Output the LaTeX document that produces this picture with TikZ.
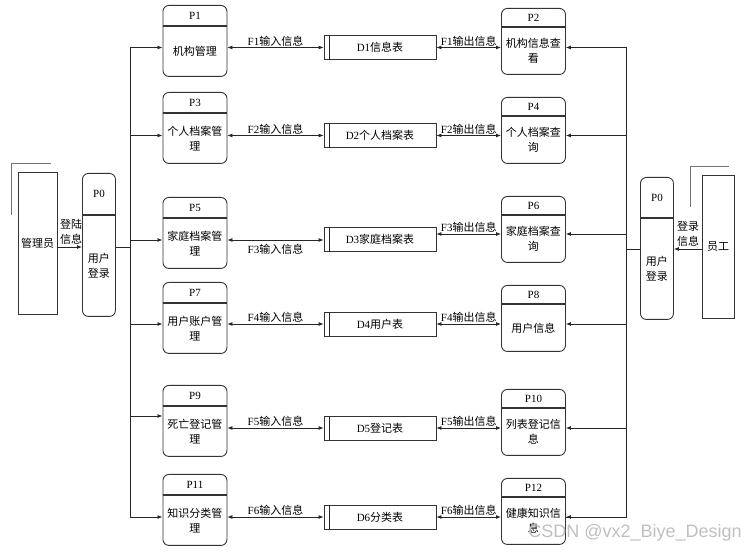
\documentclass[tikz,border=0pt]{standalone}
\usepackage{fontspec}
\setmainfont{Liberation Serif}
\setsansfont{Liberation Sans}
\newfontfamily\cjk{Noto Sans CJK SC}
\usetikzlibrary{arrows.meta,calc}

\newcommand{\zh}[1]{{\cjk #1}}

\tikzset{
  proc/.style={draw=black!80, line width=0.9pt, rounded corners=6pt, anchor=north west, inner sep=0pt},
  divider/.style={draw=black!80, line width=1.1pt},
  store/.style={draw=black!80, line width=0.8pt, minimum width=112pt, minimum height=24pt, inner sep=0pt},
  actor/.style={draw=black!80, line width=0.8pt, inner sep=0pt, font=\cjk\fontsize{11}{15}\selectfont},
  txt/.style={font=\fontsize{11}{15}\selectfont, align=center, inner sep=0pt},
  zhtxt/.style={txt, font=\cjk\fontsize{11}{15}\selectfont},
  wire/.style={draw=black!85, line width=0.8pt},
  flow/.style={wire, -{Latex[length=5pt,width=4pt]}},
  flowboth/.style={wire, {Latex[length=5pt,width=4pt]}-{Latex[length=5pt,width=4pt]}},
  corner/.style={draw=black!55, line width=0.8pt},
}

% process box: [width]{name}{x left}{y top}{height}{header}{id}{text}
\newcommand{\dfdproc}[8][64]{%
  \node[proc, minimum width=#1pt, minimum height=#5pt] (#2) at (#3,#4) {};
  \draw[divider] ([yshift=-#6pt]#2.north west) -- ([yshift=-#6pt]#2.north east);
  \node[txt] at ([yshift=-#6pt/2]#2.north) {#7};
  \node[zhtxt] at ($([yshift=-#6pt]#2.north)!.5!(#2.south)$) {#8};
}
% data store: {name}{y}{text}
\newcommand{\dfdstore}[3]{%
  \node[store, txt] (#1) at (380,#2) {#3};
  \draw[wire] ([xshift=6pt]#1.north west) -- ([xshift=6pt]#1.south west);
}

\begin{document}
\begin{tikzpicture}[x=1pt,y=-1pt]
  \useasboundingbox (0,0) rectangle (756,553);

  % external entities
  \node[actor, minimum width=39pt, minimum height=142pt] (admin) at (37.5,243) {管理员};
  \draw[corner] ([xshift=-6pt,yshift=-43pt]admin.north west) |- ([xshift=33pt,yshift=8pt]admin.north west);
  \node[actor, minimum width=32pt, minimum height=143pt] (staff) at (718,246.5) {员工};
  \draw[corner] ([xshift=-11pt,yshift=-32pt]staff.north west) |- ([xshift=27pt,yshift=8pt]staff.north west);

  % login processes
  \dfdproc[33]{pl0}{82}{173}{143}{42}{P0}{用户\\登录}
  \dfdproc[33]{pr0}{640}{177}{142}{41}{P0}{用户\\登录}

  % left processes
  \dfdproc{p1}{162.5}{5}{71}{21}{P1}{机构管理}
  \dfdproc{p3}{162.5}{92}{71}{21}{P3}{个人档案管\\理}
  \dfdproc{p5}{162.5}{197}{71}{21}{P5}{家庭档案管\\理}
  \dfdproc{p7}{162.5}{282}{71}{21}{P7}{用户账户管\\理}
  \dfdproc{p9}{162.5}{385}{71}{21}{P9}{死亡登记管\\理}
  \dfdproc{p11}{162.5}{474}{71}{21}{P11}{知识分类管\\理}

  % right processes
  \dfdproc{p2}{501}{8}{66}{19}{P2}{机构信息查\\看}
  \dfdproc{p4}{501}{97}{66}{19}{P4}{个人档案查\\询}
  \dfdproc{p6}{501}{196}{66}{19}{P6}{家庭档案查\\询}
  \dfdproc{p8}{501}{285}{66}{19}{P8}{用户信息}
  \dfdproc{p10}{501}{389}{66}{19}{P10}{列表登记信\\息}
  \dfdproc{p12}{501}{478}{66}{19}{P12}{健康知识信\\息}

  % data stores
  \dfdstore{d1}{47.5}{D1\zh{信息表}}
  \dfdstore{d2}{135.5}{D2\zh{个人档案表}}
  \dfdstore{d3}{239.5}{D3\zh{家庭档案表}}
  \dfdstore{d4}{324}{D4\zh{用户表}}
  \dfdstore{d5}{428}{D5\zh{登记表}}
  \dfdstore{d6}{517}{D6\zh{分类表}}

  % login flows
  \draw[flow] (admin.east |- 0,247) -- (pl0.west |- 0,247);
  \node[zhtxt, anchor=south] at (71,245) {登陆\\信息};
  \draw[flow] (staff.west |- 0,249) -- (pr0.east |- 0,249);
  \node[zhtxt, anchor=south] at (688,247) {登录\\信息};

  % left bus
  \coordinate (lbus) at (130,247);
  \draw[wire] (pl0.east |- lbus) -- (lbus);
  \draw[wire] (130,47.5) -- (130,517);
  \foreach \n/\y in {1/47.5,3/135.5,5/240,7/324,9/416,11/517}
    \draw[flow] (130,\y) -- (p\n.west |- 0,\y);

  % right bus
  \coordinate (rbus) at (626,249);
  \draw[wire] (pr0.west |- rbus) -- (rbus);
  \draw[wire] (626,47.5) |- (p12.east |- 0,517);
  \foreach \n/\y in {2/47.5,4/135.5,6/234,8/324,10/428,12/517}
    \draw[flow] (626,\y) -- (p\n.east |- 0,\y);

  % input flows
  \foreach \n/\d/\y in {1/1/47.5,3/2/135.5,7/4/324,9/5/428,11/6/517}{
    \draw[flowboth] (p\n.east |- 0,\y) -- node[txt, above=1pt] {F\d\zh{输入信息}} (d\d.west |- 0,\y);
  }
  \draw[flowboth] (p5.east |- 0,240) -- node[txt, below=4pt] {F3\zh{输入信息}} (d3.west |- 0,240);

  % output flows
  \foreach \n/\d/\y in {2/1/47.5,4/2/135.5,6/3/234,8/4/324,10/5/428,12/6/517}{
    \draw[flowboth] (d\d.east |- 0,\y) -- node[txt, above=1pt] {F\d\zh{输出信息}} (p\n.west |- 0,\y);
  }

  \node[font=\sffamily\fontsize{18}{18}\selectfont, text=gray!50, anchor=east, inner sep=0pt] (mark) at (742,533) {CSDN @vx2\_Biye\_Design};
\end{tikzpicture}
\end{document}
